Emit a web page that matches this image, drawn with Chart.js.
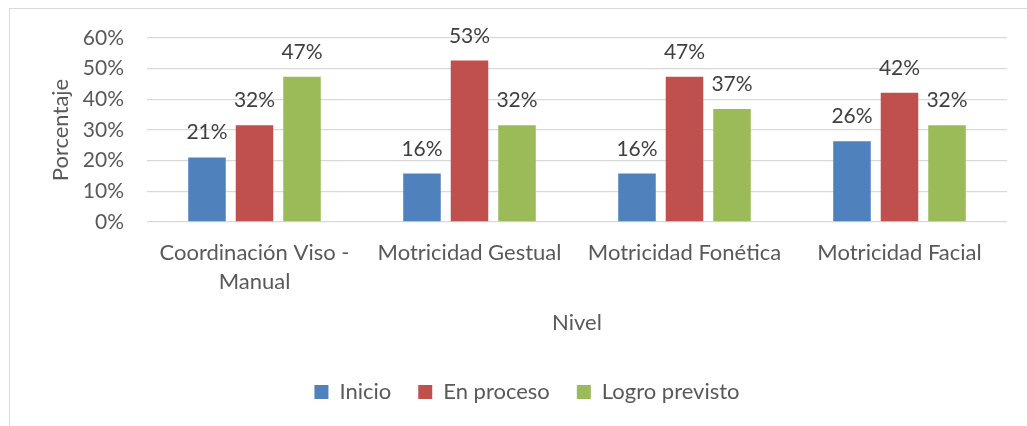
<!DOCTYPE html>
<html>
<head>
<meta charset="utf-8">
<script src="https://cdn.jsdelivr.net/npm/chart.js@4/dist/chart.umd.min.js"></script>
<style>
  html, body { margin: 0; padding: 0; background: #fff; }
  #wrap { position: relative; width: 1027px; height: 426px; overflow: hidden; }
  #frame { position: absolute; left: 9px; top: 8px; width: 1100px; height: 500px; border: 1px solid #d9d9d9; box-sizing: border-box; }
  #myChart { position: absolute; left: 0; top: 0; }
</style>
</head>
<body>
<div id="wrap">
  <div id="frame"></div>
  <canvas id="myChart" width="1027" height="426"></canvas>
</div>
<script>
// data (percent)
const niveles = [['Coordinación Viso -', 'Manual'], 'Motricidad Gestual', 'Motricidad Fonética', 'Motricidad Facial'];
const inicio = [21.05, 15.79, 15.79, 26.32];
const enProceso = [31.58, 52.63, 47.37, 42.11];
const logroPrevisto = [47.37, 31.58, 36.84, 31.58];
const yTicks = [0, 10, 20, 30, 40, 50, 60];

const txt = '#595959';
const fontFam = 'Lato, "Open Sans", sans-serif';

// draws the % value above each bar
const barLabels = {
  id: 'barLabels',
  afterDatasetsDraw(chart) {
    const ctx = chart.ctx;
    ctx.save();
    ctx.font = '21px ' + fontFam;
    ctx.fillStyle = '#404040';
    ctx.textAlign = 'center';
    ctx.textBaseline = 'alphabetic';
    chart.data.datasets.forEach((ds, i) => {
      chart.getDatasetMeta(i).data.forEach((bar, j) => {
        ctx.fillText(Math.round(ds.data[j]) + '%', bar.x, bar.y - 18);
      });
    });
    ctx.restore();
  }
};

new Chart('myChart', {
  type: 'bar',
  data: {
    labels: niveles,
    datasets: [
      { label: 'Inicio', data: inicio, backgroundColor: '#4F81BD' },
      { label: 'En proceso', data: enProceso, backgroundColor: '#C0504D' },
      { label: 'Logro previsto', data: logroPrevisto, backgroundColor: '#9BBB59' }
    ]
  },
  options: {
    responsive: false,
    animation: false,
    datasets: { bar: { categoryPercentage: 0.663, barPercentage: 0.79 } },
    layout: { padding: { top: 38, right: 20, bottom: 13, left: 47 } },
    plugins: {
      tooltip: { enabled: false },
      legend: {
        position: 'bottom',
        labels: {
          color: txt,
          font: { family: fontFam, size: 22 },
          boxWidth: 14, boxHeight: 14,
          padding: 27
        }
      }
    },
    scales: {
      x: {
        grid: { display: false },
        border: { display: false },
        ticks: { color: txt, font: { family: fontFam, size: 22, lineHeight: 1.3 }, padding: 9, maxRotation: 0, autoSkip: false },
        title: { display: true, text: 'Nivel', color: txt, font: { family: fontFam, size: 22, lineHeight: 1.2 }, padding: { top: 0, bottom: 18 } },
        afterFit: (s) => { s.height = 132; }
      },
      y: {
        min: 0, max: 60,
        border: { display: false },
        grid: { color: '#D9D9D9', lineWidth: 1.3, drawTicks: false },
        afterBuildTicks: (s) => { s.ticks = yTicks.map(v => ({ value: v })); },
        ticks: { color: txt, font: { family: fontFam, size: 21 }, padding: 23, callback: (v) => v + '%' },
        title: { display: true, text: 'Porcentaje', color: txt, font: { family: fontFam, size: 22, lineHeight: 1 }, padding: { top: 3, bottom: 0 } },
        afterFit: (s) => { s.width = 100; }
      }
    }
  },
  plugins: [barLabels]
});
</script>
</body>
</html>
